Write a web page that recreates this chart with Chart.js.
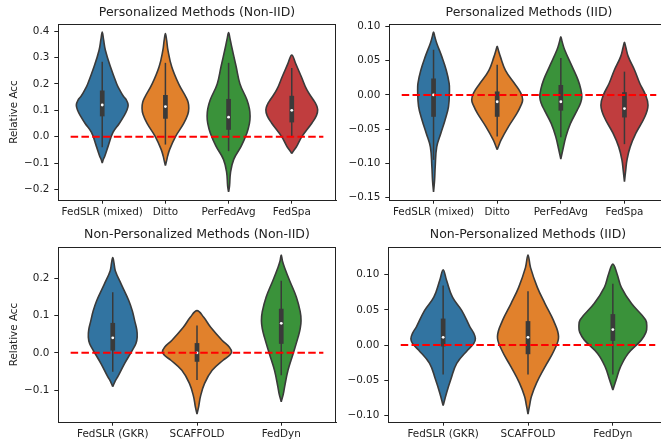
<!DOCTYPE html>
<html>
<head>
<meta charset="utf-8">
<script src="https://cdn.jsdelivr.net/npm/chart.js@4/dist/chart.umd.min.js"></script>
<style>
html, body { margin: 0; padding: 0; width: 661px; height: 441px; overflow: hidden; background: #fff; }
canvas { position: absolute; }
</style>
</head>
<body>
<canvas id="tl" width="340" height="222" style="left:0;top:0"></canvas>
<canvas id="tr" width="345" height="222" style="left:330px;top:0"></canvas>
<canvas id="bl" width="340" height="219" style="left:0;top:222px"></canvas>
<canvas id="br" width="345" height="219" style="left:330px;top:222px"></canvas>
<script>
//////////////////////////////////////////
// DATA
//////////////////////////////////////////

var persCats = ["FedSLR (mixed)", "Ditto", "PerFedAvg", "FedSpa"];
var nonPersCats = ["FedSLR (GKR)", "SCAFFOLD", "FedDyn"];

// Personalized, Non-IID : violin outline (value levels, half widths in category units)
var tlLevels = [
	[-0.100, -0.085, -0.074, -0.035, 0.016, 0.050, 0.077, 0.100, 0.120, 0.138, 0.155, 0.180, 0.200, 0.265, 0.328, 0.370, 0.397],
	[-0.110, -0.090, -0.074, -0.050, 0.000, 0.050, 0.085, 0.108, 0.130, 0.150, 0.200, 0.265, 0.328, 0.365, 0.391],
	[-0.210, -0.187, -0.137, -0.087, -0.036, 0.014, 0.050, 0.077, 0.105, 0.140, 0.200, 0.265, 0.340, 0.375, 0.395],
	[-0.064, -0.050, -0.036, 0.000, 0.052, 0.080, 0.102, 0.122, 0.140, 0.177, 0.228, 0.278, 0.310]
];
var tlWidths = [
	[0, 0.02, 0.04, 0.095, 0.17, 0.27, 0.34, 0.39, 0.41, 0.385, 0.33, 0.27, 0.23, 0.13, 0.05, 0.02, 0],
	[0, 0.02, 0.035, 0.065, 0.16, 0.29, 0.355, 0.37, 0.36, 0.325, 0.21, 0.10, 0.04, 0.02, 0],
	[0, 0.015, 0.03, 0.08, 0.20, 0.29, 0.33, 0.34, 0.33, 0.29, 0.18, 0.12, 0.05, 0.02, 0],
	[0, 0.04, 0.08, 0.16, 0.32, 0.39, 0.41, 0.385, 0.34, 0.24, 0.15, 0.06, 0]
];
var tlQ1 = [0.077, 0.068, 0.026, 0.054];
var tlMed = [0.120, 0.114, 0.074, 0.100];
var tlQ3 = [0.175, 0.158, 0.143, 0.155];
var tlLo = [-0.040, -0.030, -0.055, 0.000];
var tlHi = [0.284, 0.280, 0.280, 0.260];
var tlTicks = [-0.2, -0.1, 0.0, 0.1, 0.2, 0.3, 0.4];

// Personalized, IID
var trLevels = [
	[-0.142, -0.125, -0.105, -0.076, -0.056, -0.037, -0.017, 0.007, 0.017, 0.036, 0.056, 0.0756, 0.085, 0.092],
	[-0.080, -0.073, -0.066, -0.046, -0.027, -0.015, -0.007, 0.003, 0.017, 0.036, 0.056, 0.065, 0.071],
	[-0.094, -0.081, -0.061, -0.042, -0.022, -0.012, -0.003, 0.008, 0.022, 0.041, 0.066, 0.078, 0.085],
	[-0.127, -0.110, -0.095, -0.076, -0.056, -0.032, -0.015, 0.000, 0.017, 0.036, 0.056, 0.070, 0.077]
];
var trWidths = [
	[0, 0.016, 0.026, 0.05, 0.115, 0.18, 0.235, 0.25, 0.245, 0.20, 0.13, 0.05, 0.02, 0],
	[0, 0.03, 0.06, 0.18, 0.31, 0.375, 0.40, 0.37, 0.27, 0.13, 0.05, 0.02, 0],
	[0, 0.03, 0.08, 0.15, 0.26, 0.31, 0.33, 0.315, 0.27, 0.18, 0.06, 0.02, 0],
	[0, 0.02, 0.04, 0.09, 0.18, 0.32, 0.37, 0.33, 0.24, 0.16, 0.06, 0.02, 0]
];
var trQ1 = [-0.032, -0.032, -0.023, -0.033];
var trMed = [0.000, -0.010, -0.010, -0.020];
var trQ3 = [0.024, 0.005, 0.0145, 0.004];
var trLo = [-0.095, -0.061, -0.062, -0.072];
var trHi = [0.066, 0.044, 0.054, 0.034];
var trTicks = [-0.15, -0.10, -0.05, 0.00, 0.05, 0.10];

// Non-Personalized, Non-IID
var blLevels = [
	[-0.091, -0.075, -0.064, -0.029, 0.006, 0.025, 0.042, 0.062, 0.086, 0.110, 0.140, 0.184, 0.220, 0.240, 0.255],
	[-0.164, -0.144, -0.118, -0.082, -0.047, -0.020, -0.008, 0.002, 0.015, 0.033, 0.069, 0.095, 0.113],
	[-0.131, -0.110, -0.091, -0.047, -0.003, 0.042, 0.065, 0.086, 0.110, 0.149, 0.193, 0.228, 0.245, 0.262]
];
var blWidths = [
	[0, 0.03, 0.06, 0.14, 0.23, 0.275, 0.29, 0.285, 0.26, 0.235, 0.19, 0.10, 0.03, 0.015, 0],
	[0, 0.02, 0.04, 0.09, 0.18, 0.31, 0.38, 0.41, 0.385, 0.30, 0.16, 0.08, 0],
	[0, 0.025, 0.04, 0.08, 0.14, 0.20, 0.225, 0.235, 0.225, 0.18, 0.10, 0.04, 0.015, 0]
];
var blQ1 = [0.006, -0.024, 0.024];
var blMed = [0.040, 0.000, 0.079];
var blQ3 = [0.080, 0.026, 0.118];
var blLo = [-0.051, -0.073, -0.060];
var blHi = [0.162, 0.073, 0.193];
var blTicks = [-0.1, 0.0, 0.1, 0.2];

// Non-Personalized, IID
var brLevels = [
	[-0.086, -0.068, -0.049, -0.026, -0.007, 0.002, 0.009, 0.017, 0.026, 0.049, 0.068, 0.092, 0.107],
	[-0.098, -0.085, -0.073, -0.054, -0.031, -0.007, 0.012, 0.035, 0.059, 0.082, 0.110, 0.128],
	[-0.064, -0.049, -0.031, -0.012, 0.007, 0.018, 0.026, 0.036, 0.059, 0.082, 0.101, 0.115]
];
var brWidths = [
	[0, 0.04, 0.09, 0.16, 0.29, 0.36, 0.38, 0.36, 0.315, 0.22, 0.11, 0.04, 0],
	[0, 0.02, 0.04, 0.10, 0.20, 0.31, 0.36, 0.30, 0.20, 0.11, 0.03, 0],
	[0, 0.04, 0.09, 0.18, 0.335, 0.39, 0.40, 0.385, 0.22, 0.10, 0.05, 0]
];
var brQ1 = [-0.002, -0.013, 0.006];
var brMed = [0.011, 0.011, 0.022];
var brQ3 = [0.0376, 0.034, 0.044];
var brLo = [-0.042, -0.042, -0.042];
var brHi = [0.0845, 0.0765, 0.087];
var brTicks = [-0.10, -0.05, 0.00, 0.05, 0.10];

//////////////////////////////////////////
// DRAWING
//////////////////////////////////////////

var palette = ["#3274a1", "#e1812c", "#3a923a", "#c03d3e"];
var gray = "#3a3a3a";
var textColor = "#222";
var fontFamily = "'DejaVu Sans', sans-serif";

// matplotlib style frame round the axes, and the title centred over it
var framePlugin = {
	id: "frame",
	beforeDatasetsDraw: function(chart) {
		var a = chart.chartArea;
		var ctx = chart.ctx;
		ctx.save();
		ctx.strokeStyle = textColor;
		ctx.lineWidth = 1;
		ctx.strokeRect(Math.round(a.left) + 0.5, Math.round(a.top) + 0.5,
			Math.round(a.right - a.left) - 1, Math.round(a.bottom - a.top));
		ctx.restore();
	},
	afterDraw: function(chart, args, opts) {
		var a = chart.chartArea;
		var ctx = chart.ctx;
		ctx.save();
		ctx.fillStyle = textColor;
		ctx.font = "12.5px " + fontFamily;
		ctx.textAlign = "center";
		ctx.textBaseline = "middle";
		ctx.fillText(opts.text, (a.left + a.right) / 2, opts.y);
		ctx.restore();
	}
};

function makePanel(id, cats, levels, widths, q1, med, q3, lo, hi, yTicks, decimals, title, yTitle, geo) {
	var n = cats.length;
	var datasets = [];

	// zero reference line
	datasets.push({
		data: [{x: -0.5, y: 0}, {x: n - 0.5, y: 0}],
		borderColor: "#ff0000", borderWidth: 2, borderDash: [7.5, 3.3],
		pointRadius: 0, fill: false, order: 0
	});

	for (var i = 0; i < n; i++) {
		var outline = [];
		for (var k = 0; k < levels[i].length; k++) {
			outline.push({x: i + widths[i][k], y: levels[i][k]});
		}
		for (var k = levels[i].length - 2; k >= 0; k--) {
			outline.push({x: i - widths[i][k], y: levels[i][k]});
		}
		datasets.push({
			data: outline, borderColor: gray, borderWidth: 1.6,
			backgroundColor: palette[i], fill: "shape", tension: 0.4,
			pointRadius: 0, order: 4
		});
		// whiskers
		datasets.push({
			data: [{x: i, y: lo[i]}, {x: i, y: hi[i]}],
			borderColor: gray, borderWidth: 1.5, pointRadius: 0, fill: false, order: 3
		});
		// inter-quartile box
		datasets.push({
			data: [{x: i, y: q1[i]}, {x: i, y: q3[i]}],
			borderColor: gray, borderWidth: 4.7, borderCapStyle: "butt",
			pointRadius: 0, fill: false, order: 2
		});
		// median
		datasets.push({
			data: [{x: i, y: med[i]}],
			showLine: false, pointRadius: 1.4, pointBorderWidth: 0,
			pointBackgroundColor: "#ffffff", order: 1
		});
	}

	// y limits like matplotlib: data range plus 5% margins
	var all = [].concat.apply([], levels);
	var dmin = Math.min.apply(null, all), dmax = Math.max.apply(null, all);
	var m = (dmax - dmin) * 0.05;

	var tickFont = {family: fontFamily, size: 10.4};

	return new Chart(document.getElementById(id), {
		type: "line",
		data: {datasets: datasets},
		options: {
			responsive: false,
			animation: false,
			events: [],
			layout: {padding: {left: 0, top: geo.top, right: geo.padRight, bottom: 0}},
			plugins: {
				legend: {display: false},
				tooltip: {enabled: false},
				title: {display: false},
				frame: {text: title, y: 13}
			},
			scales: {
				x: {
					type: "linear",
					min: -0.5 - 0.05 * n,
					max: n - 0.5 + 0.05 * n,
					afterBuildTicks: function(s) {
						s.ticks = cats.map(function(c, j) { return {value: j}; });
					},
					afterFit: function(s) { s.height = geo.xHeight; },
					ticks: {
						autoSkip: false, maxRotation: 0, padding: 2,
						color: textColor, font: tickFont,
						callback: function(v) { return cats[v]; }
					},
					grid: {drawOnChartArea: false, drawTicks: true, tickLength: 3.7, color: textColor},
					border: {display: true, color: textColor}
				},
				y: {
					type: "linear",
					min: dmin - m,
					max: dmax + m,
					afterBuildTicks: function(s) {
						s.ticks = yTicks.map(function(v) { return {value: v}; });
					},
					afterFit: function(s) { s.width = geo.yWidth; },
					ticks: {
						padding: 5, color: textColor, font: tickFont,
						callback: function(v) { return v.toFixed(decimals).replace("-", "\u2212"); }
					},
					grid: {drawOnChartArea: false, drawTicks: true, tickLength: 3.7, color: textColor},
					border: {display: true, color: textColor},
					title: {
						display: !!yTitle, text: yTitle, color: textColor,
						font: tickFont, padding: {top: 8, bottom: 0}
					}
				}
			}
		},
		plugins: [framePlugin]
	});
}

window.addEventListener("load", function() {
	makePanel("tl", persCats, tlLevels, tlWidths, tlQ1, tlMed, tlQ3, tlLo, tlHi, tlTicks, 1,
		"Personalized Methods (Non-IID)", "Relative Acc",
		{yWidth: 58, xHeight: 22, padRight: 2, top: 24});
	makePanel("tr", persCats, trLevels, trWidths, trQ1, trMed, trQ3, trLo, trHi, trTicks, 2,
		"Personalized Methods (IID)", "",
		{yWidth: 59, xHeight: 22, padRight: 6, top: 24});
	makePanel("bl", nonPersCats, blLevels, blWidths, blQ1, blMed, blQ3, blLo, blHi, blTicks, 1,
		"Non-Personalized Methods (Non-IID)", "Relative Acc",
		{yWidth: 58, xHeight: 19, padRight: 2, top: 25});
	makePanel("br", nonPersCats, brLevels, brWidths, brQ1, brMed, brQ3, brLo, brHi, brTicks, 2,
		"Non-Personalized Methods (IID)", "",
		{yWidth: 58, xHeight: 19, padRight: 7, top: 25});
});
</script>
</body>
</html>
